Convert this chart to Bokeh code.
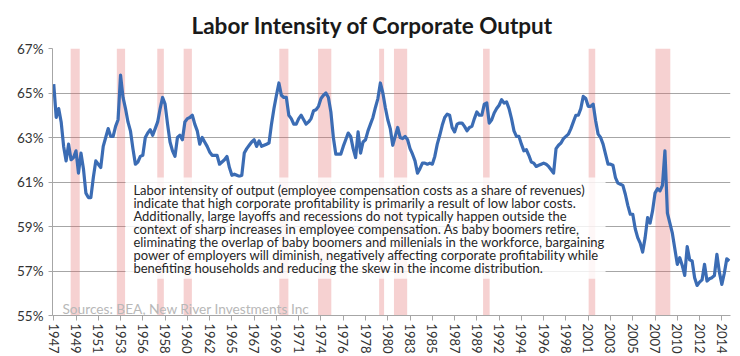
from bokeh.plotting import figure
from bokeh.models import (FixedTicker, PrintfTickFormatter, Label, BoxAnnotation,
                          Range1d, ColumnDataSource)
from bokeh.embed import file_html
from bokeh.resources import INLINE

# ---------------- data (quarterly, starting 1947Q1, percent) ----------------
start_year = 1947
share_1947_1959 = [65.4, 63.9, 64.3, 63.7, 62.6, 61.95, 62.7, 62.0, 62.1, 62.4,
                   61.4, 62.3, 61.6, 60.5, 60.3, 60.3, 61.2, 61.95, 61.8, 61.65,
                   62.6, 63.0, 63.4, 63.05, 63.05, 63.5, 63.8, 65.8, 64.8, 64.3,
                   63.7, 63.3, 62.5, 61.8, 61.9, 62.15, 62.2, 63.0, 63.2, 63.35,
                   63.1, 63.4, 63.7, 64.3, 64.8, 64.5, 63.6, 62.8, 62.4, 62.15,
                   63.0, 63.1]
share_1960_1969 = [62.9, 63.7, 63.85, 63.9, 64.0, 63.6, 63.3, 62.7, 63.0, 62.8,
                   62.6, 62.35, 62.2, 62.2, 62.2, 61.8, 61.9, 62.0, 62.15, 61.65,
                   61.3, 61.35, 61.3, 61.25, 61.3, 62.3, 62.5, 62.65, 62.8, 62.9,
                   62.6, 62.85, 62.6, 62.65, 62.7, 62.75, 63.6, 64.3, 64.9, 65.45]
share_1970_1979 = [64.9, 64.8, 64.8, 64.0, 63.85, 63.6, 63.6, 63.85, 64.0, 63.8,
                   63.6, 63.7, 63.85, 64.2, 64.25, 64.4, 64.75, 64.9, 65.0, 64.8,
                   64.15, 63.0, 62.25, 62.25, 62.25, 62.6, 62.9, 63.2, 63.05, 62.5,
                   62.1, 63.25, 62.3, 62.8, 62.9, 63.3, 63.6, 63.9, 64.35, 64.75]
share_1980_1989 = [65.45, 65.0, 64.35, 63.8, 63.4, 62.65, 63.05, 63.45, 63.0, 62.95,
                   63.05, 62.9, 62.5, 62.25, 61.95, 61.4, 61.6, 61.85, 61.85, 61.8,
                   61.85, 61.8, 62.15, 62.7, 63.1, 63.55, 63.9, 64.05, 64.0, 63.45,
                   63.25, 63.6, 63.65, 63.65, 63.5, 63.3, 63.45, 63.5, 63.85, 64.15]
share_1990_1999 = [64.0, 64.0, 64.5, 64.55, 63.65, 63.8, 64.1, 64.3, 64.45, 64.7,
                   64.55, 64.6, 64.3, 63.85, 63.3, 63.05, 63.05, 62.7, 62.4, 62.45,
                   62.2, 61.9, 61.85, 61.7, 61.75, 61.8, 61.85, 61.8, 61.7, 61.55,
                   61.4, 62.5, 62.65, 62.75, 62.95, 63.05, 63.15, 63.4, 63.7, 64.0]
share_2000_2009 = [64.0, 64.3, 64.85, 64.75, 64.4, 64.4, 64.5, 63.75, 63.15, 63.0,
                   62.7, 62.25, 61.8, 61.8, 61.75, 61.2, 60.95, 60.9, 60.85, 60.45,
                   59.95, 59.55, 59.55, 58.9, 58.5, 58.25, 57.85, 58.5, 59.4, 59.15,
                   59.7, 60.5, 60.7, 60.6, 60.85, 62.4, 59.6, 59.15, 58.7, 58.0]
share_2010_2015 = [57.3, 57.6, 57.25, 56.8, 58.1, 57.5, 57.45, 56.7, 56.35, 56.5,
                   56.6, 57.3, 56.55, 56.65, 56.7, 56.8, 57.75, 56.95, 56.4, 56.9,
                   57.55, 57.45]

# NBER recessions (peak month, trough month)
recession_start = ["1948-11", "1953-07", "1957-08", "1960-04", "1969-12", "1973-11",
                   "1980-01", "1981-07", "1990-07", "2001-03", "2007-12"]
recession_end = ["1949-10", "1954-05", "1958-04", "1961-02", "1970-11", "1975-03",
                 "1980-07", "1982-11", "1991-03", "2001-11", "2009-06"]

y_ticks = [55, 57, 59, 61, 63, 65, 67]
tick_every_quarters = 9

title_text = "Labor Intensity of Corporate Output"
source_text = "Sources: BEA, New River Investments Inc"
note_lines = [
    "Labor intensity of output (employee  compensation costs as a share  of revenues)",
    "indicate that high corporate profitability is primarily a result of low labor costs.",
    "Additionally, large layoffs and recessions do not typically happen outside the",
    "context of sharp increases in employee compensation. As baby boomers retire,",
    "eliminating the overlap of baby boomers and millenials in the workforce, bargaining",
    "power of employers will diminish, negatively affecting corporate profitability while",
    "benefiting households and reducing the  skew  in the  income distribution.",
]

# ---------------- build ----------------
share = (share_1947_1959 + share_1960_1969 + share_1970_1979 + share_1980_1989
         + share_1990_1999 + share_2000_2009 + share_2010_2015)
n = len(share)
qidx = list(range(n))


def month_to_q(s):
    y, m = s.split("-")
    return (int(y) - start_year) * 4 + (int(m) - 1) / 3.0 - 0.5


rec_src = ColumnDataSource(dict(left=[month_to_q(s) for s in recession_start],
                                right=[month_to_q(s) for s in recession_end]))

FONT = "Lato"

p = figure(width=740, height=356, output_backend="svg", toolbar_location=None,
           x_range=Range1d(-0.5, n - 0.5), y_range=Range1d(y_ticks[0], y_ticks[-1]),
           min_border_left=52, min_border_right=10, min_border_top=47,
           min_border_bottom=36, title=title_text)
p.outline_line_color = None
p.background_fill_color = "white"
p.border_fill_color = "white"

p.title.align = "left"
p.title.text_font = FONT
p.title.text_font_size = "22.5px"
p.title.text_font_style = "bold"
p.title.text_color = "#1a1a1a"
p.title.standoff = 19
p.title.offset = 139

# recession bands
p.quad(left="left", right="right", bottom=y_ticks[0], top=y_ticks[-1], source=rec_src,
       fill_color="#e06666", fill_alpha=0.3, line_color=None)

# series
p.line(qidx, share, line_color="#3b6cb4", line_width=3.2, line_join="round")

# grid
p.xgrid.grid_line_color = None
p.ygrid.grid_line_color = "#a6a6a6"
p.ygrid.grid_line_width = 1
p.ygrid.ticker = FixedTicker(ticks=y_ticks)

# axes
p.yaxis.ticker = FixedTicker(ticks=y_ticks)
p.yaxis.formatter = PrintfTickFormatter(format="%d%%")
p.yaxis.axis_line_color = "#a6a6a6"
p.yaxis.major_tick_line_color = "#a6a6a6"
p.yaxis.major_tick_out = 4
p.yaxis.major_tick_in = 0
p.yaxis.minor_tick_line_color = None
p.yaxis.major_label_text_font = FONT
p.yaxis.major_label_text_font_size = "13.5px"
p.yaxis.major_label_text_color = "#333333"
p.yaxis.major_label_standoff = 5

xt = list(range(0, n, tick_every_quarters))
p.xaxis.ticker = FixedTicker(ticks=xt)
p.xaxis.major_label_overrides = {q: str(start_year + q // 4) for q in xt}
p.xaxis.major_label_orientation = "vertical"
p.xaxis.axis_line_color = "#a6a6a6"
p.xaxis.major_tick_line_color = "#a6a6a6"
p.xaxis.major_tick_out = 5
p.xaxis.major_tick_in = 0
p.xaxis.minor_tick_line_color = None
p.xaxis.major_label_text_font = FONT
p.xaxis.major_label_text_font_size = "13px"
p.xaxis.major_label_text_color = "#333333"
p.xaxis.major_label_standoff = 3

# note box
p.add_layout(BoxAnnotation(left=29.0, right=223.0, bottom=56.65, top=61.2,
                           fill_color="white", fill_alpha=0.82, line_color=None))
line_step = 0.58
for i, line in enumerate(note_lines):
    p.add_layout(Label(x=32.2, y=60.62 - i * line_step, text=line, text_font=FONT,
                       text_font_size="13px", text_color="#262626",
                       text_baseline="middle", text_align="left"))

# source
p.add_layout(Label(x=3.5, y=55.3, text=source_text, text_font=FONT,
                   text_font_size="13.7px", text_color="#b8b8b8", text_baseline="middle"))

open("out.html", "w").write(file_html(p, INLINE))
